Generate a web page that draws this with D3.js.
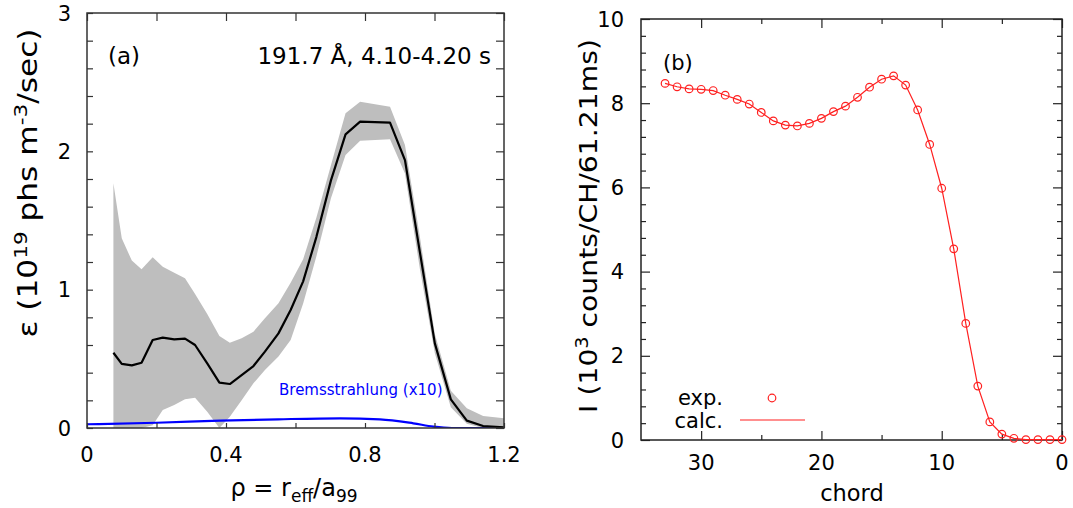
<!DOCTYPE html>
<html><head><meta charset="utf-8">
<script src="https://cdn.jsdelivr.net/npm/d3@7"></script>
<style>
body{margin:0;background:#fff;}
text{font-family:"DejaVu Sans",sans-serif;}
</style></head>
<body>
<svg id="c" width="1073" height="508"></svg>
<script>
// ---- Panel (a) data ----
const rho      = [0.076,0.100,0.129,0.157,0.189,0.218,0.251,0.282,0.311,0.346,0.381,0.411,0.445,0.479,0.512,0.551,0.586,0.622,0.660,0.702,0.744,0.786,0.872,0.915,0.958,1.001,1.047,1.093,1.140,1.200];
const epsMean  = [0.544,0.463,0.453,0.472,0.636,0.653,0.641,0.646,0.600,0.467,0.328,0.318,0.383,0.448,0.552,0.684,0.853,1.060,1.380,1.790,2.123,2.215,2.207,1.937,1.270,0.612,0.207,0.053,0.014,0.004];
const epsUpper = [1.769,1.371,1.210,1.147,1.234,1.166,1.123,1.082,0.969,0.824,0.665,0.617,0.648,0.696,0.793,0.901,1.050,1.220,1.520,1.900,2.275,2.359,2.323,2.046,1.380,0.680,0.270,0.142,0.087,0.070];
const epsLower = [0.000,0.000,0.000,0.000,0.020,0.130,0.166,0.207,0.219,0.118,0.000,0.082,0.200,0.323,0.419,0.516,0.636,0.900,1.240,1.660,1.973,2.077,2.087,1.840,1.150,0.540,0.150,0.030,0.000,0.000];
const bremRho  = [0.0,0.2,0.383,0.55,0.728,0.843,0.939,0.997,1.05,1.2];
const bremEps  = [0.027,0.038,0.053,0.063,0.070,0.063,0.034,0.010,0.000,0.000];
const aXTicks  = [0,0.4,0.8,1.2];
const aYTicks  = [0,1,2,3];

// ---- Panel (b) data ----
const chord    = [33,32,31,30,29,28,27,26,25,24,23,22,21,20,19,18,17,16,15,14,13,12,11,10,9,8,7,6,5,4,3,2,1,0];
const expI     = [8.47,8.39,8.34,8.33,8.30,8.19,8.09,7.98,7.78,7.58,7.48,7.46,7.52,7.64,7.80,7.93,8.14,8.38,8.57,8.65,8.43,7.84,7.02,5.98,4.54,2.77,1.28,0.43,0.14,0.04,0.01,0.01,0.01,0.01];
const calcI    = [8.47,8.39,8.34,8.33,8.30,8.19,8.09,7.98,7.78,7.58,7.48,7.46,7.52,7.64,7.80,7.93,8.14,8.38,8.57,8.65,8.43,7.84,7.02,5.98,4.54,2.77,1.28,0.43,0.14,0.04,0.01,0.01,0.01,0.01];
const bXTicks  = [30,20,10,0];
const bYTicks  = [0,2,4,6,8,10];

const svg = d3.select("#c");
const FS = 21;

// ================= Panel (a) =================
const ax = d3.scaleLinear().domain([0,1.2]).range([87,504]);
const ay = d3.scaleLinear().domain([0,3]).range([428,13]);
const ga = svg.append("g");
ga.append("clipPath").attr("id","clipA").append("rect")
  .attr("x",ax(0)).attr("y",ay(3)).attr("width",ax(1.2)-ax(0)).attr("height",ay(0)-ay(3));
const gd = ga.append("g").attr("clip-path","url(#clipA)");
const bandData = rho.map((r,i)=>({r,u:epsUpper[i],l:epsLower[i]}));
gd.append("path").datum(bandData)
  .attr("d", d3.area().x(d=>ax(d.r)).y0(d=>ay(d.l)).y1(d=>ay(d.u)))
  .attr("fill","#bebebe");
gd.append("path").datum(bremRho.map((r,i)=>[r,bremEps[i]]))
  .attr("d", d3.line().x(d=>ax(d[0])).y(d=>ay(d[1])).curve(d3.curveMonotoneX))
  .attr("fill","none").attr("stroke","#0000ff").attr("stroke-width",2.2);
gd.append("path").datum(rho.map((r,i)=>[r,epsMean[i]]))
  .attr("d", d3.line().x(d=>ax(d[0])).y(d=>ay(d[1])))
  .attr("fill","none").attr("stroke","#000").attr("stroke-width",2.2).attr("stroke-linejoin","round");

// axes (ticks inward)
const axB = d3.axisBottom(ax).tickValues(d3.range(0,1.21,0.2)).tickSize(-5).tickFormat("");
const axT = d3.axisTop(ax).tickValues(d3.range(0,1.21,0.2)).tickSize(-8).tickFormat("");
const ayL = d3.axisLeft(ay).tickValues(d3.range(0,3.01,0.2)).tickSize(-6).tickFormat("");
const ayR = d3.axisRight(ay).tickValues(d3.range(0,3.01,0.2)).tickSize(-8).tickFormat("");
ga.append("g").attr("transform",`translate(0,${ay(0)})`).call(axB);
ga.append("g").attr("transform",`translate(0,${ay(3)})`).call(axT);
ga.append("g").attr("transform",`translate(${ax(0)},0)`).call(ayL);
ga.append("g").attr("transform",`translate(${ax(1.2)},0)`).call(ayR);
ga.selectAll(".domain").remove();
ga.selectAll(".tick line").attr("stroke","#333").attr("stroke-width",1.2);
ga.append("rect").attr("x",ax(0)).attr("y",ay(3)).attr("width",ax(1.2)-ax(0)).attr("height",ay(0)-ay(3))
  .attr("fill","none").attr("stroke","#333").attr("stroke-width",1.5);
// tick labels
ga.selectAll(".xl").data(aXTicks).enter().append("text")
  .attr("x",d=>ax(d)).attr("y",462).attr("text-anchor","middle").attr("font-size",FS)
  .text(d=>d3.format("")(d));
ga.selectAll(".yl").data(aYTicks).enter().append("text")
  .attr("x",71).attr("y",d=>ay(d)+7.5).attr("text-anchor","end").attr("font-size",FS)
  .text(d=>d);
// axis titles
const yt = ga.append("text").attr("transform","translate(37,183) rotate(-90) scale(1.2,1)")
  .attr("text-anchor","middle").attr("font-size",26);
yt.append("tspan").text("ε (10");
yt.append("tspan").attr("dy",-10).attr("font-size",18).text("19");
yt.append("tspan").attr("dy",10).text(" phs m");
yt.append("tspan").attr("dy",-10).attr("font-size",18).text("-3");
yt.append("tspan").attr("dy",10).text("/sec)");
const xt = ga.append("text").attr("x",294).attr("y",496).attr("text-anchor","middle").attr("font-size",24);
xt.append("tspan").text("ρ = r");
xt.append("tspan").attr("dy",6).attr("font-size",17).text("eff");
xt.append("tspan").attr("dy",-6).text("/a");
xt.append("tspan").attr("dy",6).attr("font-size",17).text("99");
ga.append("text").attr("x",108).attr("y",64).attr("font-size",23).text("(a)");
ga.append("text").attr("x",491).attr("y",64).attr("text-anchor","end").attr("font-size",23).text("191.7 Å, 4.10-4.20 s");
ga.append("text").attr("x",279).attr("y",395).attr("font-size",15).attr("fill","#0000ff").text("Bremsstrahlung (x10)");

// ================= Panel (b) =================
const bx = d3.scaleLinear().domain([35,0]).range([641,1062]);
const by = d3.scaleLinear().domain([0,10]).range([440,19]);
const gb = svg.append("g");
const bMajX = d3.range(0,31,10), bMinX = [5,15,25];
const bMajY = d3.range(0,10.01,2), bMinY = d3.range(0,10.01,0.4).filter(v=>Math.abs(v/2-Math.round(v/2))>1e-6);
function ticks(g, axisFn, scale, vals, size, tr){
  g.append("g").attr("transform",tr).call(axisFn(scale).tickValues(vals).tickSize(size).tickFormat(""));
}
ticks(gb,d3.axisBottom,bx,bMajX,-9,`translate(0,${by(0)})`);
ticks(gb,d3.axisBottom,bx,bMinX,-5,`translate(0,${by(0)})`);
ticks(gb,d3.axisTop,bx,bMajX,-9,`translate(0,${by(10)})`);
ticks(gb,d3.axisTop,bx,bMinX,-5,`translate(0,${by(10)})`);
ticks(gb,d3.axisLeft,by,bMajY,-9,`translate(${bx(35)},0)`);
ticks(gb,d3.axisLeft,by,bMinY,-5,`translate(${bx(35)},0)`);
ticks(gb,d3.axisRight,by,bMajY,-9,`translate(${bx(0)},0)`);
ticks(gb,d3.axisRight,by,bMinY,-5,`translate(${bx(0)},0)`);
gb.selectAll(".domain").remove();
gb.selectAll(".tick line").attr("stroke","#222").attr("stroke-width",1.2);
gb.append("rect").attr("x",bx(35)).attr("y",by(10)).attr("width",bx(0)-bx(35)).attr("height",by(0)-by(10))
  .attr("fill","none").attr("stroke","#222").attr("stroke-width",1.5);
gb.selectAll(".bxl").data(bXTicks).enter().append("text")
  .attr("x",d=>bx(d)).attr("y",470).attr("text-anchor","middle").attr("font-size",FS).text(d=>d);
gb.selectAll(".byl").data(bYTicks).enter().append("text")
  .attr("x",624).attr("y",d=>by(d)+7.5).attr("text-anchor","end").attr("font-size",FS).text(d=>d);
gb.append("text").attr("x",852).attr("y",501).attr("text-anchor","middle").attr("font-size",22.5).text("chord");
const byt = gb.append("text").attr("transform","translate(597,226) rotate(-90) scale(1.13,1)")
  .attr("text-anchor","middle").attr("font-size",25);
byt.append("tspan").text("I (10");
byt.append("tspan").attr("dy",-9).attr("font-size",17).text("3");
byt.append("tspan").attr("dy",9).text(" counts/CH/61.21ms)");
gb.append("text").attr("x",663).attr("y",70).attr("font-size",21).text("(b)");

const red = "#ff2020";
gb.append("path").datum(chord.map((c,i)=>[c,calcI[i]]))
  .attr("d", d3.line().x(d=>bx(d[0])).y(d=>by(d[1])))
  .attr("fill","none").attr("stroke",red).attr("stroke-width",1.2);
gb.selectAll(".pt").data(chord.map((c,i)=>[c,expI[i]])).enter().append("circle")
  .attr("cx",d=>bx(d[0])).attr("cy",d=>by(d[1])).attr("r",3.8)
  .attr("fill","none").attr("stroke",red).attr("stroke-width",1.2);
// legend
gb.append("text").attr("x",723).attr("y",405).attr("text-anchor","end").attr("font-size",21).text("exp.");
gb.append("circle").attr("cx",772).attr("cy",398).attr("r",3.8).attr("fill","none").attr("stroke",red).attr("stroke-width",1.2);
gb.append("text").attr("x",723).attr("y",428).attr("text-anchor","end").attr("font-size",21).text("calc.");
gb.append("line").attr("x1",740).attr("x2",805).attr("y1",420).attr("y2",420).attr("stroke",red).attr("stroke-width",1.2);
</script>
</body></html>
